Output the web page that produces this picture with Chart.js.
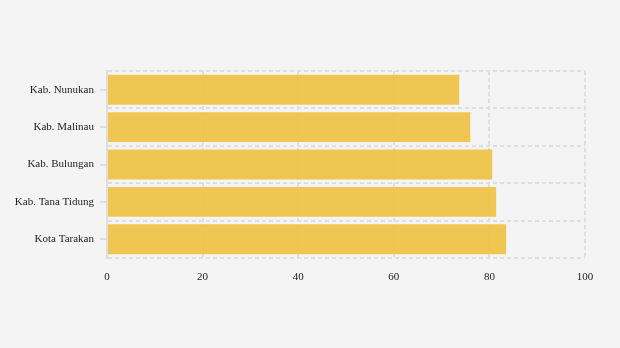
<!DOCTYPE html>
<html><head><meta charset="utf-8">
<script src="https://cdn.jsdelivr.net/npm/chart.js@4/dist/chart.umd.min.js"></script>
<style>html,body{margin:0;padding:0;background:#f4f4f4;}#wrap{width:620px;height:348px;}</style>
</head><body><div id="wrap"><canvas id="c" width="620" height="348"></canvas></div>
<script>
const categories = ["Kab. Nunukan","Kab. Malinau","Kab. Bulungan","Kab. Tana Tidung","Kota Tarakan"];
const values = [73.7, 76.0, 80.6, 81.4, 83.5];
const xTicks = [0,20,40,60,80,100];

const gridColor = '#dedede';
const centerTicks = {
  id:'centerTicks',
  afterDatasetsDraw(chart){
    const y = chart.scales.y, ctx = chart.ctx;
    ctx.save(); ctx.strokeStyle = gridColor; ctx.lineWidth = 2;
    categories.forEach((c,i)=>{
      const py = Math.round(y.getPixelForValue(i));
      ctx.beginPath(); ctx.moveTo(y.right-7, py); ctx.lineTo(y.right, py); ctx.stroke();
    });
    ctx.restore();
  }
};

new Chart(document.getElementById('c'), {
  type:'bar',
  data:{labels:categories, datasets:[{data:values, backgroundColor:'rgba(240,193,64,0.9)', borderWidth:0, barPercentage:0.8, categoryPercentage:1.0}]},
  plugins:[centerTicks],
  options:{
    indexAxis:'y', responsive:false, animation:false, devicePixelRatio:1,
    layout:{padding:{top:71,right:35,left:0,bottom:0}},
    plugins:{legend:{display:false}, tooltip:{enabled:false}},
    scales:{
      x:{min:0,max:100, afterBuildTicks(s){s.ticks = xTicks.map(v=>({value:v}));},
        afterFit(s){s.height = 90;},
        grid:{color:gridColor, drawTicks:false, lineWidth:2},
        border:{display:false, dash:[4,3]},
        ticks:{padding:13, color:'#222', font:{family:'Liberation Serif', size:11}}},
      y:{afterFit(s){s.width = 107;},
        grid:{color:gridColor, drawTicks:false, offset:true, lineWidth:2},
        border:{display:true, color:gridColor, width:2, dash:[4,3]},
        ticks:{padding:13, color:'#222', font:{family:'Liberation Serif', size:11}}}
    }
  }
});
</script></body></html>
